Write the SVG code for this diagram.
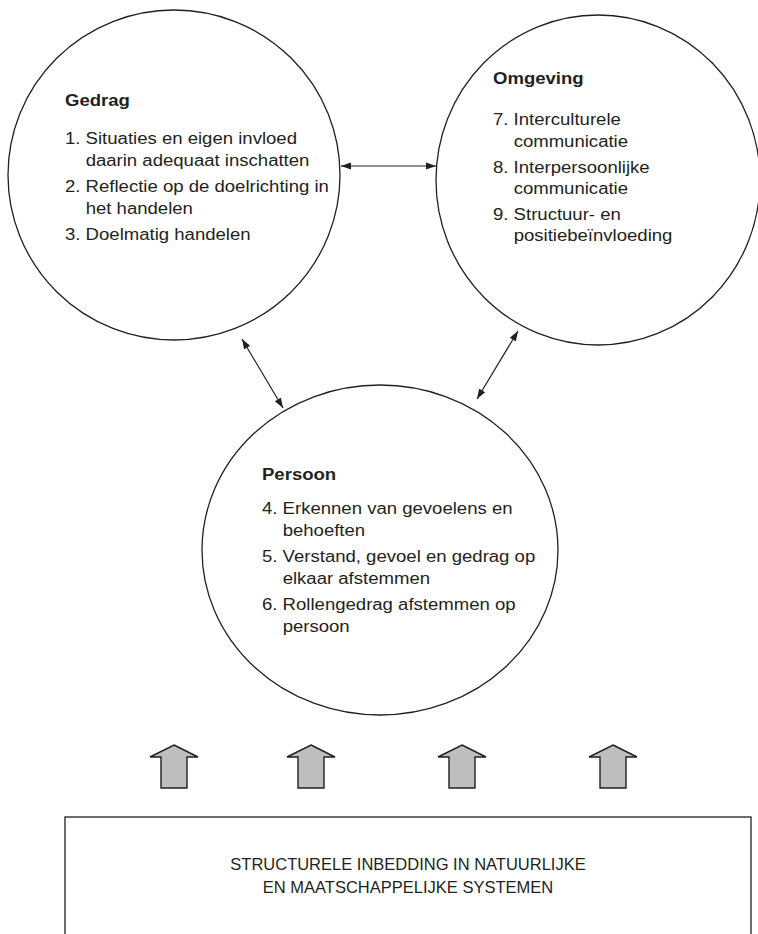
<svg xmlns="http://www.w3.org/2000/svg" width="758" height="934" viewBox="0 0 758 934">
<style>
.shape{fill:none;stroke:#231f20;stroke-width:1.3}
.conn{stroke:#231f20;stroke-width:1.2;fill:none}
.t{font-family:"Liberation Sans",Arial,sans-serif;font-size:16px;fill:#231f20}
.b{font-weight:bold}
.up{fill:#bcbec0;stroke:#231f20;stroke-width:1.4;stroke-linejoin:miter}
.box{font-family:"Liberation Sans",Arial,sans-serif;font-size:16.5px;fill:#231f20}
</style>
<defs>
<marker id="ah" markerUnits="userSpaceOnUse" markerWidth="11" markerHeight="8" refX="10" refY="4" orient="auto-start-reverse">
<path d="M0,0.5 L10,4 L0,7.5 Z" fill="#231f20"/>
</marker>
</defs>
<rect width="758" height="934" fill="#ffffff"/>

<g id="gedrag">
<ellipse class="shape" cx="174" cy="175" rx="166" ry="165"/>
<g transform="translate(65,0) scale(1.16,1)">
<text class="t b" x="0" y="106">Gedrag</text>
<text class="t" x="0" y="144">1. Situaties en eigen invloed</text>
<text class="t" x="17.8" y="166">daarin adequaat inschatten</text>
<text class="t" x="0" y="192">2. Reflectie op de doelrichting in</text>
<text class="t" x="17.8" y="214">het handelen</text>
<text class="t" x="0" y="240">3. Doelmatig handelen</text>
</g>
</g>

<g id="omgeving">
<ellipse class="shape" cx="598" cy="180" rx="162" ry="165"/>
<g transform="translate(493,0) scale(1.16,1)">
<text class="t b" x="0" y="84">Omgeving</text>
<text class="t" x="0" y="125">7. Interculturele</text>
<text class="t" x="17.8" y="147">communicatie</text>
<text class="t" x="0" y="173">8. Interpersoonlijke</text>
<text class="t" x="17.8" y="194">communicatie</text>
<text class="t" x="0" y="220">9. Structuur- en</text>
<text class="t" x="17.8" y="241">positiebeïnvloeding</text>
</g>
</g>

<g id="persoon">
<ellipse class="shape" cx="380" cy="550" rx="178" ry="165"/>
<g transform="translate(262,0) scale(1.16,1)">
<text class="t b" x="0" y="480">Persoon</text>
<text class="t" x="0" y="514">4. Erkennen van gevoelens en</text>
<text class="t" x="17.8" y="536">behoeften</text>
<text class="t" x="0" y="562">5. Verstand, gevoel en gedrag op</text>
<text class="t" x="17.8" y="584">elkaar afstemmen</text>
<text class="t" x="0" y="610">6. Rollengedrag afstemmen op</text>
<text class="t" x="17.8" y="632">persoon</text>
</g>
</g>

<g id="connectors">
<line class="conn" x1="341" y1="166" x2="436" y2="166" marker-start="url(#ah)" marker-end="url(#ah)"/>
<line class="conn" x1="242" y1="339" x2="283" y2="408" marker-start="url(#ah)" marker-end="url(#ah)"/>
<line class="conn" x1="518" y1="331" x2="477" y2="399" marker-start="url(#ah)" marker-end="url(#ah)"/>
</g>

<g id="up-arrows">
<path class="up" d="M174,745 L198,757 L187,757 L187,788 L161,788 L161,757 L150,757 Z"/>
<path class="up" d="M311,745 L335,757 L324,757 L324,788 L298,788 L298,757 L287,757 Z"/>
<path class="up" d="M462,745 L486,757 L475,757 L475,788 L449,788 L449,757 L438,757 Z"/>
<path class="up" d="M613,745 L637,757 L626,757 L626,788 L600,788 L600,757 L589,757 Z"/>
</g>

<g id="systemen">
<rect class="shape" x="65" y="817" width="686" height="160"/>
<text class="box" x="408" y="870" text-anchor="middle">STRUCTURELE INBEDDING IN NATUURLIJKE</text>
<text class="box" x="408" y="893" text-anchor="middle">EN MAATSCHAPPELIJKE SYSTEMEN</text>
</g>
</svg>
